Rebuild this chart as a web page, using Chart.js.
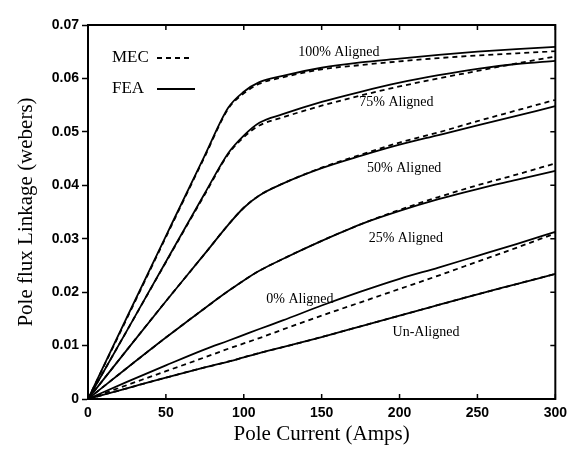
<!DOCTYPE html>
<html>
<head>
<meta charset="utf-8">
<script src="https://cdn.jsdelivr.net/npm/chart.js@4/dist/chart.umd.min.js"></script>
<style>
  html, body { margin: 0; padding: 0; background: #fff; }
  #wrap { width: 573px; height: 450px; }
</style>
</head>
<body>
<div id="wrap"><canvas id="flux-chart" width="573" height="450"></canvas></div>
<script>
// pole current (A)
var currents = [0, 25, 50, 75, 90, 100, 110, 125, 150, 175, 200, 225, 250, 275, 300];

// flux linkage (webers), FEA = solid, MEC = dashed
var fea100 = [0, 0.0153, 0.0305, 0.0456, 0.0545, 0.0575, 0.0593, 0.0605, 0.0620, 0.0630, 0.0637, 0.0644, 0.0650, 0.0655, 0.0659];
var mec100 = [0, 0.0151, 0.0303, 0.0454, 0.0543, 0.0572, 0.0590, 0.0602, 0.0617, 0.0625, 0.0632, 0.0638, 0.0643, 0.0647, 0.0651];
var fea75 = [0, 0.0128, 0.0257, 0.0385, 0.0460, 0.0493, 0.0517, 0.0533, 0.0556, 0.0575, 0.0592, 0.0606, 0.0618, 0.0627, 0.0633];
var mec75 = [0, 0.0128, 0.0256, 0.0383, 0.0458, 0.0490, 0.0512, 0.0527, 0.0549, 0.0568, 0.0585, 0.0600, 0.0614, 0.0628, 0.0641];
var fea50 = [0, 0.0092, 0.0183, 0.0272, 0.0326, 0.0358, 0.0381, 0.0403, 0.0432, 0.0455, 0.0476, 0.0494, 0.0512, 0.0530, 0.0548];
var mec50 = [0, 0.0092, 0.0183, 0.0272, 0.0326, 0.0358, 0.0381, 0.0403, 0.0433, 0.0457, 0.0480, 0.0499, 0.0520, 0.0540, 0.0560];
var fea25 = [0, 0.0058, 0.0115, 0.0170, 0.0202, 0.0222, 0.0240, 0.0262, 0.0296, 0.0327, 0.0352, 0.0374, 0.0393, 0.0410, 0.0427];
var mec25 = [0, 0.0058, 0.0115, 0.0170, 0.0202, 0.0222, 0.0240, 0.0262, 0.0296, 0.0327, 0.0354, 0.0378, 0.0400, 0.0420, 0.0441];
var fea0 = [0, 0.0032, 0.0063, 0.0093, 0.0109, 0.0120, 0.0131, 0.0147, 0.0175, 0.0201, 0.0225, 0.0246, 0.0268, 0.0290, 0.0313];
var mec0 = [0, 0.0026, 0.0052, 0.0078, 0.0094, 0.0104, 0.0114, 0.0130, 0.0156, 0.0181, 0.0206, 0.0231, 0.0257, 0.0283, 0.0310];
var feaUn = [0, 0.0020, 0.0040, 0.0059, 0.0070, 0.0078, 0.0086, 0.0097, 0.0116, 0.0136, 0.0156, 0.0176, 0.0196, 0.0215, 0.0234];
var mecUn = [0, 0.0020, 0.0040, 0.0059, 0.0070, 0.0078, 0.0086, 0.0097, 0.0116, 0.0136, 0.0156, 0.0176, 0.0196, 0.0215, 0.0234];

var xTickLabels = ['0', '50', '100', '150', '200', '250', '300'];
var yTickLabels = ['0', '0.01', '0.02', '0.03', '0.04', '0.05', '0.06', '0.07'];

// curve labels, placed in data units
var curveNames = ['100% Aligned', '75% Aligned', '50% Aligned', '25% Aligned', '0% Aligned', 'Un-Aligned'];
var curveNameX = [161, 198, 203, 204, 136, 217];
var curveNameY = [0.0648, 0.0556, 0.0431, 0.0301, 0.0187, 0.0124];

function pts(ys) {
  return currents.map(function (c, i) { return { x: c, y: ys[i] }; });
}

function series(label, ys, dashed) {
  return {
    label: label,
    data: pts(ys),
    borderColor: '#000',
    borderWidth: 1.8,
    borderDash: dashed ? [5, 4] : [],
    pointRadius: 0,
    fill: false,
    cubicInterpolationMode: 'monotone'
  };
}

var serif = '"Liberation Serif", "Times New Roman", serif';
var sans = '"Liberation Sans", Arial, sans-serif';

// frame, inward ticks, curve names and the MEC/FEA key
var decorations = {
  id: 'decorations',
  afterDraw: function (chart) {
    var ctx = chart.ctx;
    var a = chart.chartArea;
    var xs = chart.scales.x, ys = chart.scales.y;
    ctx.save();
    ctx.strokeStyle = '#000';
    ctx.lineWidth = 2;
    ctx.strokeRect(a.left, a.top, a.right - a.left, a.bottom - a.top);

    ctx.lineWidth = 1.5;
    ctx.beginPath();
    xs.ticks.forEach(function (t) {
      var px = xs.getPixelForValue(t.value);
      ctx.moveTo(px, a.bottom); ctx.lineTo(px, a.bottom - 5);
      ctx.moveTo(px, a.top); ctx.lineTo(px, a.top + 5);
    });
    ys.ticks.forEach(function (t) {
      var py = ys.getPixelForValue(t.value);
      ctx.moveTo(a.right, py); ctx.lineTo(a.right - 5, py);
    });
    ctx.stroke();

    ctx.fillStyle = '#000';
    ctx.font = '14px ' + serif;
    ctx.textAlign = 'center';
    ctx.textBaseline = 'middle';
    curveNames.forEach(function (name, i) {
      ctx.fillText(name, xs.getPixelForValue(curveNameX[i]), ys.getPixelForValue(curveNameY[i]));
    });

    // key
    ctx.font = '17px ' + serif;
    ctx.textAlign = 'left';
    ctx.fillText('MEC', a.left + 24, a.top + 33);
    ctx.fillText('FEA', a.left + 24, a.top + 64);
    ctx.lineWidth = 1.8;
    ctx.beginPath();
    ctx.setLineDash([5, 4]);
    ctx.moveTo(a.left + 69, a.top + 33); ctx.lineTo(a.left + 103, a.top + 33);
    ctx.stroke();
    ctx.beginPath();
    ctx.setLineDash([]);
    ctx.moveTo(a.left + 69, a.top + 64); ctx.lineTo(a.left + 107, a.top + 64);
    ctx.stroke();
    ctx.restore();
  }
};

var ctx = document.getElementById('flux-chart').getContext('2d');
var fluxChart = new Chart(ctx, {
  type: 'line',
  data: {
    datasets: [
      series('FEA 100%', fea100, false), series('MEC 100%', mec100, true),
      series('FEA 75%', fea75, false), series('MEC 75%', mec75, true),
      series('FEA 50%', fea50, false), series('MEC 50%', mec50, true),
      series('FEA 25%', fea25, false), series('MEC 25%', mec25, true),
      series('FEA 0%', fea0, false), series('MEC 0%', mec0, true),
      series('FEA Un-Aligned', feaUn, false), series('MEC Un-Aligned', mecUn, true)
    ]
  },
  options: {
    responsive: false,
    animation: false,
    layout: { padding: { left: 10, right: 16, top: 25, bottom: 0 } },
    plugins: { legend: { display: false }, tooltip: { enabled: false } },
    scales: {
      x: {
        type: 'linear',
        min: 0,
        max: 300,
        afterFit: function (scale) { scale.height = 51; },
        ticks: {
          stepSize: 50,
          padding: 6,
          color: '#000',
          font: { family: sans, size: 14, weight: 'bold' },
          callback: function (v) { return xTickLabels[v / 50]; }
        },
        grid: { display: false, drawTicks: false },
        border: { color: '#000', width: 2 },
        title: {
          display: true,
          text: 'Pole Current (Amps)',
          color: '#000',
          font: { family: serif, size: 21 },
          padding: { top: 0, bottom: 3 }
        }
      },
      y: {
        type: 'linear',
        min: 0,
        max: 0.07,
        afterFit: function (scale) { scale.width = 78; },
        ticks: {
          stepSize: 0.01,
          padding: 3,
          color: '#000',
          font: { family: sans, size: 14, weight: 'bold' },
          callback: function (v) { return yTickLabels[Math.round(v * 100)]; }
        },
        grid: { drawOnChartArea: false, tickLength: 6, color: '#000', tickWidth: 1.5 },
        border: { color: '#000', width: 2 },
        title: {
          display: true,
          text: 'Pole flux Linkage (webers)',
          color: '#000',
          font: { family: serif, size: 21 },
          padding: { top: 4, bottom: 4 }
        }
      }
    }
  },
  plugins: [decorations]
});
</script>
</body>
</html>
